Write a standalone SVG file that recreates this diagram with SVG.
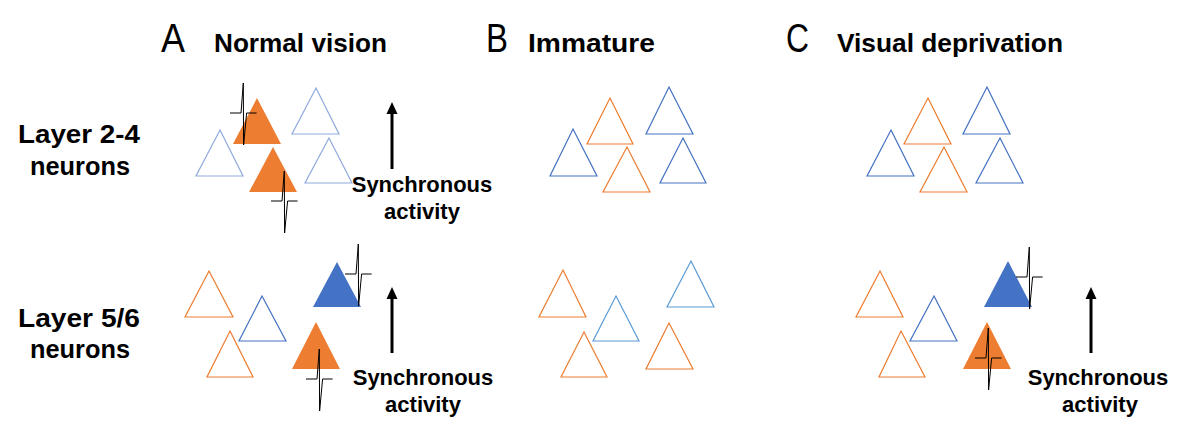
<svg xmlns="http://www.w3.org/2000/svg" width="1192" height="437" viewBox="0 0 1192 437">
<style>
.t{fill:none;stroke-width:1.2}
.or{stroke:#ED7D31}
.lb{stroke:#8FAADC}
.mb{stroke:#4472C4}
.sb{stroke:#5B9BD5}
.fo{fill:#ED7D31}
.fb{fill:#4472C4}
.sp{fill:none;stroke:#000;stroke-width:1}
.lbl{font-family:"Liberation Sans",Arial,sans-serif;font-weight:bold;fill:#000}
.let{font-family:"Liberation Sans",Arial,sans-serif;font-size:41px;fill:#000}
.ar{stroke:#000;stroke-width:3}
</style>
<defs>
<path id="spike" class="sp" d="M0,0 h11 l2.3,-30 l0.3,62 l3,-32 h10"/>
</defs>
<rect width="1192" height="437" fill="#fff"/>

<!-- headers -->
<g id="headers">
<text class="let" x="161" y="52" textLength="24" lengthAdjust="spacingAndGlyphs">A</text>
<text class="lbl" x="214" y="52" font-size="26" textLength="173" lengthAdjust="spacingAndGlyphs">Normal vision</text>
<text class="let" x="486" y="52" textLength="22" lengthAdjust="spacingAndGlyphs">B</text>
<text class="lbl" x="528" y="52" font-size="26" textLength="127" lengthAdjust="spacingAndGlyphs">Immature</text>
<text class="let" x="786" y="52" textLength="23" lengthAdjust="spacingAndGlyphs">C</text>
<text class="lbl" x="837" y="52" font-size="26" textLength="226" lengthAdjust="spacingAndGlyphs">Visual deprivation</text>
</g>

<g id="row-labels" class="lbl" font-size="25">
<text x="18" y="143" textLength="122" lengthAdjust="spacingAndGlyphs">Layer 2-4</text>
<text x="30" y="175" textLength="100" lengthAdjust="spacingAndGlyphs">neurons</text>
<text x="18" y="327" textLength="122" lengthAdjust="spacingAndGlyphs">Layer 5/6</text>
<text x="30" y="358" textLength="100" lengthAdjust="spacingAndGlyphs">neurons</text>
</g>

<!-- Panel A top -->
<g id="a1"><polygon class="fo" points="257,98 281,144 233,144"/></g>
<g id="a2"><polygon class="fo" points="273,147 297,192 249,192"/></g>
<g id="a3"><polygon class="t lb" points="220,130 243,176 196,176"/></g>
<g id="a4"><polygon class="t lb" points="316,88 339,134 292,134"/></g>
<g id="a5"><polygon class="t lb" points="329,138 352,183 305,183"/></g>
<!-- Panel A bottom -->
<g id="a6"><polygon class="t or" points="209,271 233,317 185,317"/></g>
<g id="a7"><polygon class="t mb" points="262,296 286,341 239,341"/></g>
<g id="a8"><polygon class="t or" points="230,331 253,377 207,377"/></g>
<g id="a9"><polygon class="fb" points="337,262 361,307 313,307"/></g>
<g id="a10"><polygon class="fo" points="316,322 340,369 292,369"/></g>

<!-- Panel B top -->
<g id="b1"><polygon class="t mb" points="573,129 597,176 550,176"/></g>
<g id="b2"><polygon class="t or" points="610,98 633,144 587,144"/></g>
<g id="b3"><polygon class="t or" points="627,147 650,192 603,192"/></g>
<g id="b4"><polygon class="t mb" points="669,87 693,134 646,134"/></g>
<g id="b5"><polygon class="t mb" points="683,138 706,183 660,183"/></g>
<!-- Panel B bottom -->
<g id="b6"><polygon class="t or" points="563,270 586,317 539,317"/></g>
<g id="b7"><polygon class="t sb" points="616,296 639,341 593,341"/></g>
<g id="b8"><polygon class="t or" points="584,332 607,377 561,377"/></g>
<g id="b9"><polygon class="t sb" points="691,261 714,307 667,307"/></g>
<g id="b10"><polygon class="t or" points="669,323 693,369 646,369"/></g>

<!-- Panel C top -->
<g id="c1"><polygon class="t mb" points="891,130 914,176 867,176"/></g>
<g id="c2"><polygon class="t or" points="928,98 951,144 904,144"/></g>
<g id="c3"><polygon class="t or" points="944,147 967,192 920,192"/></g>
<g id="c4"><polygon class="t mb" points="987,87 1010,134 963,134"/></g>
<g id="c5"><polygon class="t mb" points="1000,138 1023,183 976,183"/></g>
<!-- Panel C bottom -->
<g id="c6"><polygon class="t or" points="880,271 903,317 856,317"/></g>
<g id="c7"><polygon class="t mb" points="934,296 957,341 910,341"/></g>
<g id="c8"><polygon class="t or" points="901,331 925,377 879,377"/></g>
<g id="c9"><polygon class="fb" points="1008,261 1032,307 984,307"/></g>
<g id="c10"><polygon class="fo" points="987,322 1011,369 963,369"/></g>

<!-- spikes -->
<g id="spikes">
<use href="#spike" x="230" y="113"/>
<use href="#spike" x="271" y="201"/>
<use href="#spike" x="345" y="274"/>
<use href="#spike" x="306" y="379"/>
<use href="#spike" x="1016" y="277"/>
<use href="#spike" x="975" y="358"/>
</g>

<!-- arrows -->
<g id="arrows">
<line class="ar" x1="392" y1="169" x2="392" y2="112"/>
<polygon points="392,102 397.5,114 386.5,114"/>
<line class="ar" x1="392" y1="353" x2="392" y2="297"/>
<polygon points="392,287 397.5,299 386.5,299"/>
<line class="ar" x1="1091" y1="353" x2="1091" y2="297"/>
<polygon points="1091,287 1096.5,299 1085.5,299"/>
</g>

<g id="arrow-labels" class="lbl" font-size="22" text-anchor="middle">
<text x="422" y="192">Synchronous</text>
<text x="422" y="219">activity</text>
<text x="423" y="385">Synchronous</text>
<text x="423" y="412">activity</text>
<text x="1098" y="385">Synchronous</text>
<text x="1100" y="412">activity</text>
</g>
</svg>
